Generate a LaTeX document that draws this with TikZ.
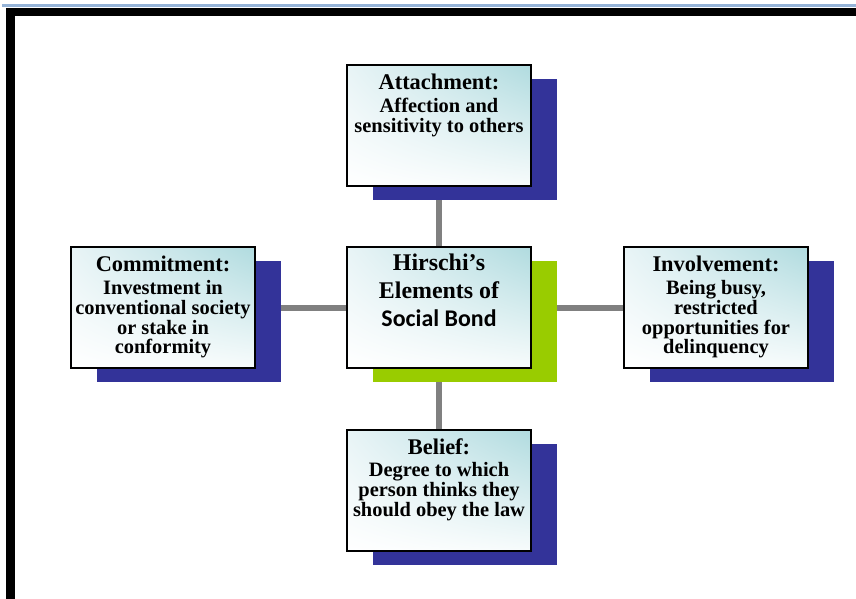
\documentclass[tikz,border=0pt]{standalone}
\usepackage{fontspec}
\setmainfont{Liberation Serif}
\newfontfamily\carlito{Carlito}
\usetikzlibrary{positioning, shadows, shadings, backgrounds}

\definecolor{navyshadow}{RGB}{51,51,153}
\definecolor{limeshadow}{RGB}{153,204,0}
\definecolor{linkgray}{RGB}{128,128,128}
\definecolor{tealtop}{RGB}{176,219,223}
\definecolor{paletop}{RGB}{232,244,246}
\definecolor{pagerule}{RGB}{149,179,215}

\newcommand{\bondtitle}{\fontsize{22.5}{24}\selectfont}

\begin{document}
\begin{tikzpicture}[
    x=1bp, y=-1bp,
    bondbox/.style={draw=black, line width=2bp, minimum width=184bp, minimum height=121bp, inner sep=0pt,
        upper right=tealtop, upper left=paletop, lower left=white, lower right=white!90!tealtop},
    navyshade/.style={drop shadow={shadow xshift=26bp, shadow yshift=-14bp, opacity=1, fill=navyshadow}},
    limeshade/.style={drop shadow={shadow xshift=26bp, shadow yshift=-14bp, opacity=1, fill=limeshadow}},
    bondtext/.style={anchor=north, align=center, inner sep=0pt, yshift=-9.5bp,
        font=\bfseries\fontsize{20.5}{20}\selectfont},
    link/.style={draw=linkgray, line width=6bp}
]
    \useasboundingbox (0,0) rectangle (856,599);

    % page rule and frame
    \draw[pagerule, line width=2.5bp] (2,5.5) -- (856,5.5);
    \draw[line width=8.5bp] (10.3,599) -- (10.3,12) -- (856,12);

    % boxes
    \node[bondbox, limeshade] (ctr) at (439,307.5) {};
    \node[bondbox, navyshade, above=59bp of ctr] (att) {};
    \node[bondbox, navyshade, left=90bp of ctr] (com) {};
    \node[bondbox, navyshade, right=91bp of ctr] (inv) {};
    \node[bondbox, navyshade, below=60bp of ctr] (bel) {};

    % links behind the shadows
    \begin{scope}[on background layer]
        \draw[link] (att) -- (ctr) -- (bel);
        \draw[link] (com) -- (ctr) -- (inv);
    \end{scope}

    % texts
    \node[bondtext, yshift=2bp, font=\bfseries\fontsize{24}{28}\selectfont] (ctrText) at (ctr.north)
        {Hirschi’s\\ Elements of\\ {\carlito Social Bond}};
    \node[bondtext] (attText) at (att.north)
        {{\bondtitle Attachment:}\\[3bp] Affection and\\ sensitivity to others};
    \node[bondtext] (comText) at (com.north)
        {{\bondtitle Commitment:}\\[3bp] Investment in\\ conventional society\\ or stake in\\ conformity};
    \node[bondtext] (invText) at (inv.north)
        {{\bondtitle Involvement:}\\[3bp] Being busy,\\ restricted\\ opportunities for\\ delinquency};
    \node[bondtext] (belText) at (bel.north)
        {{\bondtitle Belief:}\\[2bp] Degree to which\\ person thinks they\\ should obey the law};
\end{tikzpicture}
\end{document}
